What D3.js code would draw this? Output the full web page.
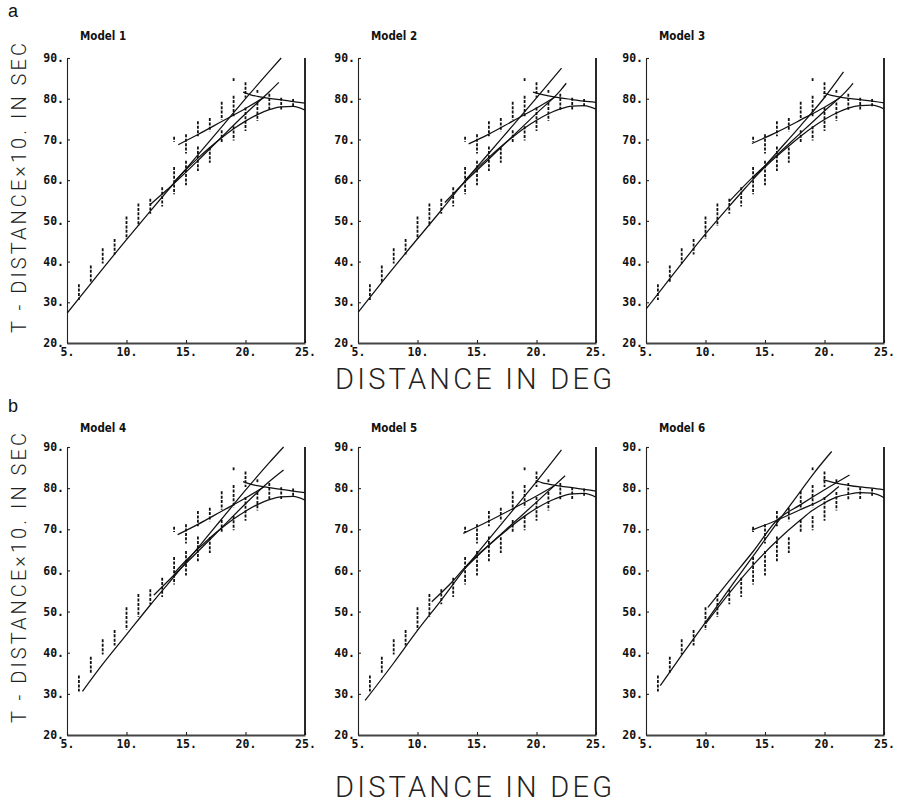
<!DOCTYPE html>
<html lang="en">
  <head>
    <meta charset="utf-8">
    <title>T - Distance for six models</title>
    <script src="https://cdnjs.cloudflare.com/ajax/libs/d3/7.8.5/d3.min.js"></script>
    <style>
      body { margin: 0; background: #fff; }
      .axis text { font-family: "DejaVu Sans Mono"; font-weight: bold; font-size: 11.5px; fill: #111; }
      .axis path, .axis line { stroke: #222; stroke-width: 1.1px; }
      .model { font-family: "DejaVu Sans Condensed", "DejaVu Sans"; font-weight: bold; font-size: 11.5px; fill: #111; }
      .big { font-family: Roboto; font-weight: 300; fill: #222; }
      .letter { font-family: "Liberation Sans"; font-size: 18px; fill: #111; }
      .branch { fill: none; stroke: #111; stroke-width: 1.25px; }
      .obs { stroke: #111; stroke-width: 1.8px; stroke-dasharray: 3,1.4; }
    </style>
  </head>
  <body>
    <div id="graph"></div>
    <script>
    const modelNames = ["Model 1", "Model 2", "Model 3", "Model 4", "Model 5", "Model 6"];
    const xTicks = [5, 10, 15, 20, 25];
    const yTicks = [20, 30, 40, 50, 60, 70, 80, 90];

    // observed travel times: one dashed column per segment (distance, low, high)
    const obsDist = [6, 7, 8, 9, 10, 11, 12, 13, 14, 14, 15, 15, 16, 16, 17, 17, 18, 18,
                     19, 19, 19, 20, 20, 21, 21, 22, 23, 24];
    const obsLo = [30.8, 35.0, 39.8, 42.0, 45.8, 49.0, 52.0, 53.8, 56.8, 69.6, 59.0, 66.8, 62.5, 71.0, 64.5, 72.2, 69.5, 75.0,
                   70.0, 75.6, 84.6, 72.3, 80.5, 74.8, 81.7, 77.2, 77.6, 78.0];
    const obsHi = [34.2, 38.8, 43.0, 45.3, 50.8, 54.0, 55.2, 58.0, 63.0, 70.4, 64.5, 71.0, 68.0, 74.2, 67.8, 75.0, 72.0, 79.0,
                   73.0, 80.5, 84.8, 77.6, 83.8, 78.8, 81.9, 81.0, 80.0, 79.7];

    // computed branches, one list of [distance, reduced time] per model
    const branchA = [
      [[5,27.3],[7,34.6],[10,45.4],[12,52.4],[14,59.3],[16,66.2],[18,73.1],[20,80.0],[22,86.7],[23,90]],
      [[5,27.5],[7,34.9],[10,45.6],[12,52.6],[14,59.8],[16,66.6],[18,73.4],[20,80.2],[22.1,87.5]],
      [[5,28.3],[7,35.8],[10,46.8],[12,53.6],[14,60.2],[16,66.8],[18,73.4],[20,80.3],[21.6,86.6]],
      [[6.3,30.6],[8,37.2],[10,44.4],[12,51.6],[14,58.5],[16,65.5],[18,72.5],[20,79.5],[22,86.2],[23.2,90]],
      [[5.6,28.4],[8,37.5],[10,45.4],[12,52.8],[14,60.5],[16,67.6],[18,74.6],[20,81.6],[22.1,89.3]],
      [[6.2,32.0],[8,39.4],[9.8,46.6],[12,55.5],[14,63.5],[16,71.5],[18,79.3],[19.1,83.6],[20.6,88.9]]
    ];
    const branchB = [
      [[12,54.0],[13,56.6],[14,59.2],[16,64.8],[18,70.6],[20,76.3],[22,81.7],[22.8,84.0]],
      [[12.3,54.5],[14,59.6],[16,65.2],[18,70.8],[20,76.4],[22,82.0],[22.5,83.8]],
      [[12,54.8],[14,60.8],[16,66.2],[18,71.6],[20,77.0],[22,82.4],[22.4,83.8]],
      [[12.3,54.0],[14,58.9],[16,64.6],[18,70.4],[20,76.2],[22,81.6],[23.2,84.4]],
      [[11.2,52.4],[13,57.5],[14,60.8],[16,66.2],[18,71.4],[20,76.6],[22.4,83.0]],
      [[10.2,51.0],[12,57.5],[14,64.6],[16,72.2],[18,76.0],[20,79.6],[22.1,83.2]]
    ];
    const branchC = [
      [[14.35,68.7],[16,71.2],[18,74.4],[20,77.6],[21.6,80.4]],
      [[14.3,68.9],[16,71.3],[18,74.5],[20,77.7],[21.6,80.5]],
      [[13.9,69.0],[16,71.8],[18,74.8],[20,77.9],[21.4,80.4]],
      [[14.3,68.7],[16,71.2],[18,74.4],[20,77.6],[21.6,80.4]],
      [[13.85,69.0],[16,72.0],[18,75.0],[20,78.1],[21.5,80.6]],
      [[13.9,69.8],[16,72.2],[18,74.8],[20,77.6],[21.2,80.4]]
    ];
    const branchD = [
      [[14,59.6],[15,62.6],[16,65.4],[17,68.0],[18,70.4],[19,72.6],[20,74.5],[21,76.1],[22,77.3],[23,78.0],[24,78.1],[25,77.2]],
      [[14,60.0],[15,62.9],[16,65.6],[17,68.2],[18,70.6],[19,72.8],[20,74.7],[21,76.3],[22,77.5],[23,78.2],[24,78.3],[25,77.4]],
      [[14,60.4],[15,63.2],[16,65.9],[17,68.4],[18,70.8],[19,73.0],[20,74.9],[21,76.5],[22,77.7],[23,78.3],[24,78.4],[25,77.5]],
      [[14,59.3],[15,62.4],[16,65.2],[17,67.9],[18,70.3],[19,72.5],[20,74.4],[21,76.0],[22,77.2],[23,77.9],[24,78.0],[25,77.1]],
      [[14,60.6],[15,63.4],[16,66.1],[17,68.6],[18,71.0],[19,73.2],[20,75.1],[21,76.7],[22,77.9],[23,78.6],[24,78.7],[25,77.8]],
      [[10,47.0],[12,54.5],[14,61.3],[16,67.2],[18,72.3],[19,74.6],[20,76.4],[21,77.8],[22,78.5],[23,78.9],[24,78.8],[25,77.7]]
    ];
    const branchE = [
      [[19.8,81.6],[20.5,80.9],[21,80.6],[22,80.1],[23,79.7],[24,79.3],[25,78.9]],
      [[19.7,81.6],[20.5,81.0],[21,80.7],[22,80.2],[23,79.8],[24,79.4],[25,79.1]],
      [[19.9,81.4],[20.5,80.9],[21,80.6],[22,80.1],[23,79.8],[24,79.4],[25,79.0]],
      [[19.8,81.6],[20.5,80.9],[21,80.6],[22,80.1],[23,79.7],[24,79.3],[25,78.9]],
      [[20.0,81.8],[20.5,81.3],[21,81.0],[22,80.5],[23,80.1],[24,79.7],[25,79.3]],
      [[19.9,82.0],[21,81.2],[22,80.7],[23,80.3],[24,80.0],[25,79.6]]
    ];

    const W = 899, H = 804;
    const colLeft = [67, 358, 646];
    const plotW = 238;
    const rowTop = [58, 447];
    const rowBottom = [343, 735];

    const svg = d3.select("#graph").append("svg")
      .attr("width", W).attr("height", H);

    modelNames.forEach((name, i) => {
      const col = i % 3, row = Math.floor(i / 3);
      const x = d3.scaleLinear().domain([5, 25]).range([colLeft[col], colLeft[col] + plotW]);
      const y = d3.scaleLinear().domain([20, 90]).range([rowBottom[row], rowTop[row]]);

      const g = svg.append("g");

      svg.append("clipPath").attr("id", "clip" + i)
        .append("rect")
        .attr("x", x(5)).attr("y", y(90) - 1)
        .attr("width", x(25) - x(5)).attr("height", y(20) - y(90) + 1);

      // axes, ticks point inwards
      g.append("g").attr("class", "axis")
        .attr("transform", "translate(" + x(5) + ",0)")
        .call(d3.axisLeft(y).tickValues(yTicks).tickSize(-3).tickSizeOuter(0)
          .tickPadding(3).tickFormat(d => d + "."));

      g.append("g").attr("class", "axis")
        .attr("transform", "translate(0," + y(20) + ")")
        .call(d3.axisBottom(x).tickValues(xTicks).tickSize(-3).tickSizeOuter(0)
          .tickPadding(5).tickFormat(d => d + "."))
        .call(a => a.select(".domain").style("stroke-width", "1.8px").style("stroke", "#444"));

      g.append("line")
        .attr("x1", x(25)).attr("x2", x(25))
        .attr("y1", y(90)).attr("y2", y(20))
        .attr("stroke", "#111").attr("stroke-width", 1.8);

      // observed data
      g.selectAll(".obs").data(obsDist).enter().append("line")
        .attr("class", "obs")
        .attr("x1", d => x(d)).attr("x2", d => x(d))
        .attr("y1", (d, k) => y(obsHi[k]) - 1)
        .attr("y2", (d, k) => y(obsLo[k]) + 1);

      // computed branches
      const line = d3.line().x(d => x(d[0])).y(d => y(d[1])).curve(d3.curveMonotoneX);
      const branches = [branchA[i], branchB[i], branchC[i], branchD[i], branchE[i]];
      g.append("g").attr("clip-path", "url(#clip" + i + ")")
        .selectAll("path").data(branches).enter().append("path")
        .attr("class", "branch")
        .attr("d", line);

      svg.append("text").attr("class", "model")
        .attr("x", x(5) + 13)
        .attr("y", row === 0 ? 40 : 432)
        .text(name);
    });

    // panel letters
    svg.append("text").attr("class", "letter").attr("x", 8).attr("y", 17).text("a");
    svg.append("text").attr("class", "letter").attr("x", 8).attr("y", 412).text("b");

    // axis titles
    [389, 797].forEach(yy => {
      svg.append("text").attr("class", "big")
        .attr("x", 335).attr("y", yy)
        .attr("textLength", 277).attr("lengthAdjust", "spacing")
        .style("font-size", "29px")
        .text("DISTANCE IN DEG");
    });
    [188, 578].forEach(yy => {
      svg.append("text").attr("class", "big")
        .attr("transform", "translate(26," + (yy + 145) + ") rotate(-90)")
        .attr("textLength", 290).attr("lengthAdjust", "spacing")
        .style("font-size", "20px")
        .text("T - DISTANCE×10. IN SEC");
    });
    </script>
  </body>
</html>
